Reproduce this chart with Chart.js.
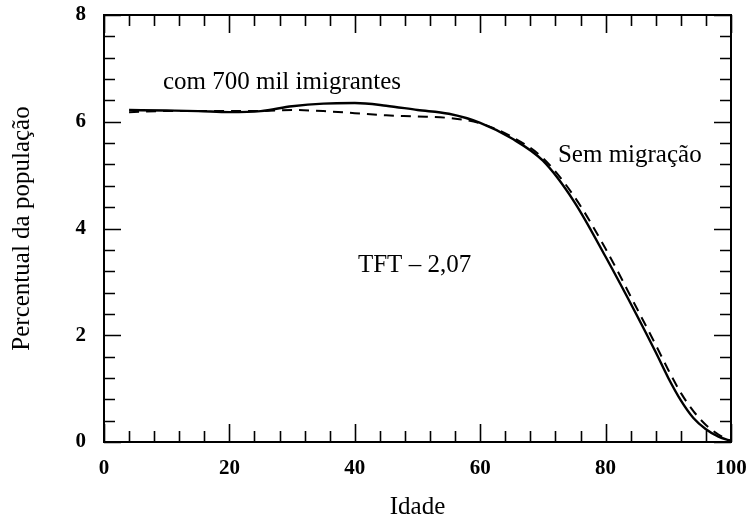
<!DOCTYPE html>
<html>
<head>
<meta charset="utf-8">
<script src="https://cdn.jsdelivr.net/npm/chart.js@4/dist/chart.umd.min.js"></script>
<style>
  html, body { margin: 0; padding: 0; background: #fff; }
  canvas { display: block; }
</style>
</head>
<body>
<canvas id="chart" width="746" height="523"></canvas>
<script>
// idades e percentuais da população
var idades = [4, 10, 15, 20, 25, 30, 35, 40, 45, 50, 55, 60, 65, 70, 75, 80, 85, 88, 90, 92, 94, 96, 98, 100];
var comImigrantes = [6.22, 6.21, 6.2, 6.18, 6.2, 6.29, 6.34, 6.35, 6.3, 6.22, 6.15, 5.98, 5.69, 5.27, 4.5, 3.47, 2.37, 1.68, 1.2, 0.78, 0.45, 0.24, 0.1, 0.02];
var semMigracao = [6.18, 6.2, 6.2, 6.2, 6.2, 6.22, 6.2, 6.16, 6.12, 6.1, 6.07, 5.97, 5.72, 5.32, 4.6, 3.62, 2.5, 1.82, 1.35, 0.92, 0.58, 0.32, 0.14, 0.02];

var xTicks = [0, 20, 40, 60, 80, 100];
var yTicks = [0, 2, 4, 6, 8];

// rotulos dentro do grafico: [texto, idade, percentual]
var notas = [
  ['com 700 mil imigrantes', 9.4, 6.74],
  ['Sem migração', 72.4, 5.37],
  ['TFT – 2,07', 40.5, 3.31]
];

var serif = '"Liberation Serif", "DejaVu Serif", serif';

function pontos(ys) {
  return idades.map(function(a, i) { return { x: a, y: ys[i] }; });
}

// moldura com marcas voltadas para dentro nos quatro lados
var moldura = {
  id: 'moldura',
  afterDraw: function(chart) {
    var ctx = chart.ctx;
    var a = chart.chartArea;
    var xs = chart.scales.x, ys = chart.scales.y;
    ctx.save();
    ctx.strokeStyle = '#000';
    ctx.lineWidth = 2;
    ctx.strokeRect(a.left, a.top, a.right - a.left, a.bottom - a.top);
    ctx.lineWidth = 1.6;
    ctx.beginPath();
    for (var v = 0; v <= 100; v += 4) {
      var px = Math.round(xs.getPixelForValue(v)) + 0.5;
      var len = v % 20 === 0 ? 18 : 11;
      ctx.moveTo(px, a.bottom); ctx.lineTo(px, a.bottom - len);
      ctx.moveTo(px, a.top); ctx.lineTo(px, a.top + len);
    }
    for (var k = 0; k <= 20; k++) {
      var val = k * 0.4;
      var py = Math.round(ys.getPixelForValue(val)) + 0.5;
      var l2 = k % 5 === 0 ? 17 : 11;
      ctx.moveTo(a.left, py); ctx.lineTo(a.left + l2, py);
      ctx.moveTo(a.right, py); ctx.lineTo(a.right - l2, py);
    }
    ctx.stroke();

    ctx.fillStyle = '#000';
    ctx.font = '25px ' + serif;
    ctx.textBaseline = 'middle';
    ctx.textAlign = 'left';
    notas.forEach(function(n) {
      ctx.fillText(n[0], xs.getPixelForValue(n[1]), ys.getPixelForValue(n[2]));
    });
    ctx.restore();
  }
};

new Chart(document.getElementById('chart'), {
  type: 'line',
  data: {
    datasets: [
      {
        label: 'com 700 mil imigrantes',
        data: pontos(comImigrantes),
        borderColor: '#000',
        borderWidth: 2.4,
        pointRadius: 0,
        cubicInterpolationMode: 'monotone',
        fill: false
      },
      {
        label: 'Sem migração',
        data: pontos(semMigracao),
        borderColor: '#000',
        borderWidth: 2,
        borderDash: [10, 7],
        pointRadius: 0,
        cubicInterpolationMode: 'monotone',
        fill: false
      }
    ]
  },
  options: {
    responsive: false,
    animation: false,
    layout: { padding: { top: 15, right: 15, left: 0, bottom: 0 } },
    plugins: { legend: { display: false }, tooltip: { enabled: false } },
    scales: {
      x: {
        type: 'linear',
        min: 0,
        max: 100,
        afterBuildTicks: function(s) { s.ticks = xTicks.map(function(v) { return { value: v }; }); },
        afterFit: function(s) { s.height = 81; s.paddingLeft = 0; s.paddingRight = 0; },
        grid: { display: false, drawTicks: false },
        border: { display: false },
        ticks: { color: '#000', padding: 14, font: { family: serif, size: 21, weight: 'bold' }, maxRotation: 0 },
        title: { display: true, text: 'Idade', color: '#000', font: { family: serif, size: 25 }, padding: { top: 0, bottom: 1 } }
      },
      y: {
        type: 'linear',
        min: 0,
        max: 8,
        afterBuildTicks: function(s) { s.ticks = yTicks.map(function(v) { return { value: v }; }); },
        afterFit: function(s) { s.width = 104; s.paddingTop = 0; s.paddingBottom = 0; },
        grid: { display: false, drawTicks: false },
        border: { display: false },
        ticks: { color: '#000', padding: 18, font: { family: serif, size: 21, weight: 'bold' } },
        title: { display: true, text: 'Percentual da população', color: '#000', font: { family: serif, size: 25 }, padding: { top: 7, bottom: 0 } }
      }
    }
  },
  plugins: [moldura]
});
</script>
</body>
</html>
